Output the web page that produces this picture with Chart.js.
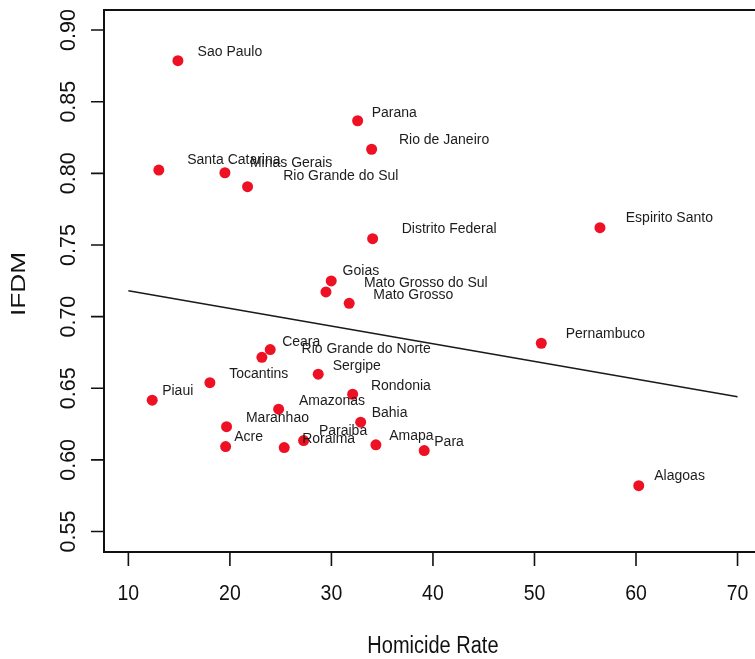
<!DOCTYPE html>
<html>
<head>
<meta charset="utf-8">
<script src="https://cdn.jsdelivr.net/npm/chart.js@4"></script>
<style>
  html, body { margin: 0; padding: 0; background: #fff; }
  #wrap { width: 755px; height: 659px; position: relative; }
</style>
</head>
<body>
<div id="wrap"><canvas id="scatter"></canvas></div>
<script>
// States, homicide rate (x) and IFDM (y)
const states = ['Sao Paulo', 'Parana', 'Rio de Janeiro', 'Santa Catarina', 'Minas Gerais',
  'Rio Grande do Sul', 'Distrito Federal', 'Espirito Santo', 'Goias', 'Mato Grosso do Sul',
  'Mato Grosso', 'Ceara', 'Rio Grande do Norte', 'Sergipe', 'Tocantins', 'Piaui', 'Rondonia',
  'Amazonas', 'Bahia', 'Maranhao', 'Paraiba', 'Acre', 'Roraima', 'Amapa', 'Para',
  'Pernambuco', 'Alagoas'];
const homicide = [14.88, 32.58, 33.96, 13.0, 19.51, 21.74, 34.06, 56.45, 29.98, 29.46,
  31.75, 23.97, 23.15, 28.7, 18.03, 12.35, 32.09, 24.8, 32.88, 19.67, 27.26, 19.58, 25.35,
  34.38, 39.14, 50.67, 60.27];
const ifdm = [0.8786, 0.8367, 0.8168, 0.8023, 0.8004, 0.7907, 0.7544, 0.7621, 0.7249, 0.7172,
  0.7093, 0.677, 0.6716, 0.6598, 0.6539, 0.6417, 0.6458, 0.6354, 0.6263, 0.6232, 0.6135,
  0.6093, 0.6086, 0.6105, 0.6065, 0.6814, 0.582];

// Where each text label sits (data units, left edge / middle)
const labelX = [16.82, 33.96, 36.65, 15.79, 21.97, 25.25, 36.92, 58.99, 31.1, 33.2, 34.12,
  25.15, 27.06, 30.12, 19.93, 13.33, 33.89, 26.8, 33.96, 21.58, 28.77, 20.42, 27.12, 35.69,
  40.13, 53.07, 61.8];
const labelY = [0.8849, 0.8423, 0.8233, 0.8093, 0.807, 0.7981, 0.761, 0.7686, 0.7314, 0.7233,
  0.7151, 0.6825, 0.6774, 0.6656, 0.6598, 0.6477, 0.6516, 0.6412, 0.6326, 0.6291, 0.6202,
  0.6158, 0.6144, 0.6167, 0.6123, 0.6879, 0.5883];

// Fitted line end points
const fitX = [10, 70];
const fitY = [0.718, 0.644];

// Axis ticks
const xTicks = [10, 20, 30, 40, 50, 60, 70];
const yTicks = [0.55, 0.60, 0.65, 0.70, 0.75, 0.80, 0.85, 0.90];

const FONT = '"Liberation Sans", Arial, Helvetica, sans-serif';
const INK = '#111';

function drawText(ctx, text, x, y, size, opts = {}) {
  ctx.save();
  ctx.translate(x, y);
  if (opts.rotate) ctx.rotate(opts.rotate);
  ctx.scale(opts.sx || 1, opts.sy || 1);
  ctx.font = `${size}px ${FONT}`;
  ctx.fillStyle = opts.color || INK;
  ctx.textAlign = opts.align || 'center';
  ctx.textBaseline = 'middle';
  ctx.fillText(text, 0, 0);
  ctx.restore();
}

// Frame, ticks, tick labels and titles in the R base-graphics look
const axesPlugin = {
  id: 'rAxes',
  beforeDatasetsDraw(chart) {
    const { ctx, chartArea: a, scales: { x, y } } = chart;
    ctx.save();
    ctx.strokeStyle = INK;
    ctx.lineWidth = 2;
    ctx.beginPath();
    ctx.moveTo(chart.width, a.top);
    ctx.lineTo(a.left, a.top);
    ctx.lineTo(a.left, a.bottom);
    ctx.lineTo(chart.width, a.bottom);
    ctx.stroke();

    ctx.lineWidth = 1.6;
    ctx.beginPath();
    xTicks.forEach(v => {
      const px = x.getPixelForValue(v);
      ctx.moveTo(px, a.bottom);
      ctx.lineTo(px, a.bottom + 14);
    });
    yTicks.forEach(v => {
      const py = y.getPixelForValue(v);
      ctx.moveTo(a.left, py);
      ctx.lineTo(a.left - 13, py);
    });
    ctx.stroke();
    ctx.restore();

    xTicks.forEach(v => drawText(ctx, String(v), x.getPixelForValue(v), a.bottom + 42, 19.5, { sy: 1.1 }));
    yTicks.forEach(v => drawText(ctx, v.toFixed(2), 69.5, y.getPixelForValue(v), 21.5, { rotate: -Math.PI / 2 }));

    drawText(ctx, 'Homicide Rate', x.getPixelForValue(40), 647, 20, { sy: 1.15 });
    drawText(ctx, 'IFDM', 19, (a.top + a.bottom) / 2 + 3, 21, { rotate: -Math.PI / 2, sx: 1.25 });
  },
  afterDatasetsDraw(chart) {
    const { ctx, scales: { x, y } } = chart;
    states.forEach((s, i) => {
      drawText(ctx, s, x.getPixelForValue(labelX[i]), y.getPixelForValue(labelY[i]), 14,
        { align: 'left', color: '#1c1c1c' });
    });
  },
};

new Chart(document.getElementById('scatter'), {
  type: 'scatter',
  data: {
    datasets: [
      {
        type: 'line',
        data: fitX.map((v, i) => ({ x: v, y: fitY[i] })),
        borderColor: '#1a1a1a',
        borderWidth: 1.5,
        pointRadius: 0,
        fill: false,
        order: 2,
      },
      {
        data: homicide.map((v, i) => ({ x: v, y: ifdm[i] })),
        backgroundColor: '#ee1124',
        borderWidth: 0,
        pointRadius: 5.5,
        order: 1,
      },
    ],
  },
  options: {
    responsive: true,
    maintainAspectRatio: false,
    animation: false,
    layout: { autoPadding: false, padding: { left: 104, top: 10, right: 0, bottom: 107 } },
    plugins: { legend: { display: false }, tooltip: { enabled: false } },
    scales: {
      x: { type: 'linear', min: 7.6, max: 71.72, display: false },
      y: { type: 'linear', min: 0.5357, max: 0.914, display: false },
    },
  },
  plugins: [axesPlugin],
});
</script>
</body>
</html>
